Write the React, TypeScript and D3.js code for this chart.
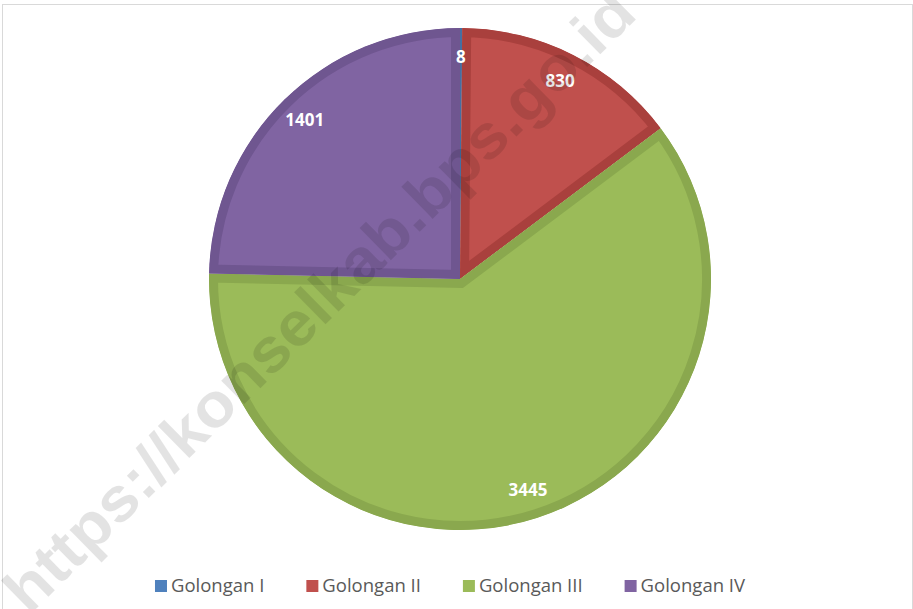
import { useRef, useEffect } from "react";
import * as d3 from "d3";

const categories = ["Golongan I", "Golongan II", "Golongan III", "Golongan IV"];
const values = [8, 830, 3445, 1401];
const fills = ["#4F81BD", "#C0504D", "#9BBB59", "#8064A2"];
const edges = ["#456FA2", "#A9403D", "#8AA84E", "#6F5690"];
const watermark = "https://konselkab.bps.go.id";

export default function App() {
    const svgRef = useRef<SVGSVGElement>(null);

    useEffect(() => {
        if (!svgRef.current) return;
        const svg = d3.select(svgRef.current);
        svg.selectAll("*").remove();

        const width = 913;
        const height = 609;
        const cx = 460;
        const cy = 279;
        const r = 251;

        svg.attr("width", width).attr("height", height);

        svg.append("rect")
            .attr("x", 0).attr("y", 0)
            .attr("width", width).attr("height", height)
            .attr("fill", "#fff");

        // chart frame
        svg.append("rect")
            .attr("x", 2.5).attr("y", 4.5)
            .attr("width", width - 3).attr("height", height)
            .attr("fill", "none")
            .attr("stroke", "#d9d9d9");

        const pie = d3.pie<number>().sort(null).value((d) => d);
        const arcs = pie(values);
        const arc = d3.arc<d3.PieArcDatum<number>>().innerRadius(0).outerRadius(r);
        const labelArc = d3.arc<d3.PieArcDatum<number>>().innerRadius(222).outerRadius(222);

        const defs = svg.append("defs");
        arcs.forEach((a, i) => {
            defs.append("clipPath")
                .attr("id", `slice-${i}`)
                .append("path")
                .attr("d", arc(a)!);
        });

        const g = svg.append("g").attr("transform", `translate(${cx},${cy})`);

        g.selectAll(".slice")
            .data(arcs)
            .enter()
            .append("path")
            .attr("class", "slice")
            .attr("d", (d) => arc(d)!)
            .attr("fill", (_, i) => fills[i])
            .attr("stroke", (_, i) => edges[i])
            .attr("stroke-width", 18)
            .attr("stroke-linejoin", "miter")
            .attr("clip-path", (_, i) => `url(#slice-${i})`);

        g.selectAll(".lbl")
            .data(arcs)
            .enter()
            .append("text")
            .attr("class", "lbl")
            .attr("transform", (d) => `translate(${labelArc.centroid(d)})`)
            .attr("text-anchor", "middle")
            .attr("dy", "0.35em")
            .attr("fill", "#fff")
            .attr("font-family", "'Open Sans', sans-serif")
            .attr("font-weight", "bold")
            .attr("font-size", 17)
            .text((d) => d.data);

        // watermark
        svg.append("text")
            .attr("transform", "translate(334,316) rotate(-44.5)")
            .attr("text-anchor", "middle")
            .attr("font-family", "'Liberation Sans', Arial, sans-serif")
            .attr("font-weight", "bold")
            .attr("font-size", 62)
            .attr("textLength", 855)
            .attr("lengthAdjust", "spacingAndGlyphs")
            .attr("fill", "#000")
            .attr("fill-opacity", 0.11)
            .text(watermark);

        // legend
        const legend = svg.append("g").attr("transform", "translate(0,586)");
        const items = legend.selectAll(".item")
            .data(categories)
            .enter()
            .append("g")
            .attr("class", "item");
        items.append("rect")
            .attr("y", -6).attr("width", 12).attr("height", 12)
            .attr("fill", (_, i) => fills[i]);
        items.append("text")
            .attr("x", 16)
            .attr("dy", "0.35em")
            .attr("fill", "#595959")
            .attr("font-family", "'Open Sans', sans-serif")
            .attr("font-size", 18.5)
            .text((d) => d);

        const widths: number[] = [];
        items.each(function () {
            const t = d3.select(this).select("text").node() as SVGTextElement;
            widths.push(16 + t.getComputedTextLength());
        });
        const gap = 42;
        const total = d3.sum(widths) + gap * (widths.length - 1);
        let x = 450 - total / 2;
        items.attr("transform", (_, i) => {
            const tx = x;
            x += widths[i] + gap;
            return `translate(${tx},0)`;
        });
    }, []);

    return (
        <svg ref={svgRef} style={{ position: "absolute", left: 0, top: 0 }} />
    );
}
